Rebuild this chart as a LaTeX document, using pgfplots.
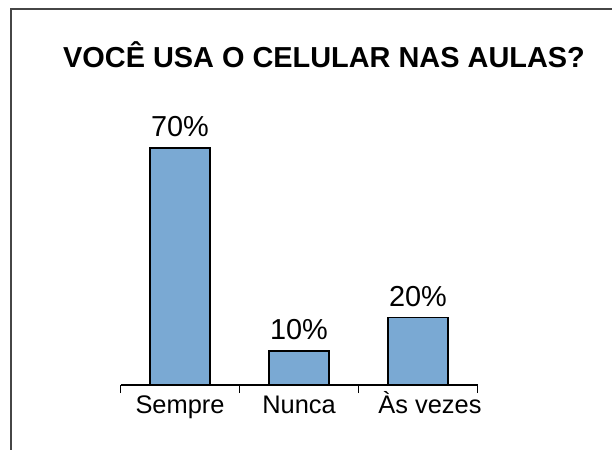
\documentclass[border=0pt]{standalone}
\usepackage{fontspec}
\setmainfont{Liberation Sans}
\usepackage{pgfplots}
\pgfplotsset{compat=1.18}
\definecolor{barblue}{RGB}{122,169,211}
\definecolor{framegray}{RGB}{70,70,70}
\begin{document}
\begin{tikzpicture}
\useasboundingbox (0,0) rectangle (612bp,450bp);
\fill[white] (0,0) rectangle (612bp,450bp);
\draw[framegray, line width=2.2bp] (11bp,0) -- (11bp,441bp) -- (612bp,441bp);
\node[font=\fontsize{29}{32}\selectfont\bfseries, anchor=base] at (324bp,382bp) {VOCÊ USA O CELULAR NAS AULAS?};
\begin{axis}[
  at={(120.5bp,65bp)}, anchor=south west,
  scale only axis, width=357bp, height=237bp,
  xmin=-0.5, xmax=2.5, ymin=0, ymax=70,
  clip=false,
  axis x line*=bottom, axis y line=none,
  axis line style={line width=1.3bp, black},
  xtick={0,1,2},
  xticklabels={Sempre, Nunca, \hspace*{24bp}Às vezes},
  minor xtick={-0.5,0.5,1.5,2.5},
  major tick length=0pt,
  minor tick length=8bp,
  tick align=outside,
  minor tick style={line width=1.3bp, black},
  xticklabel style={font=\fontsize{25.5}{28}\selectfont, text height=18.5bp, text depth=5bp, yshift=-6bp},
  /pgf/number format/assume math mode=true,
  ybar, bar width=60bp,
  nodes near coords={\pgfmathprintnumber{\pgfplotspointmeta}\%},
  nodes near coords style={font=\fontsize{29}{30}\selectfont, anchor=south, yshift=7bp},
]
\addplot[fill=barblue, draw=black, line width=1.3bp] coordinates {(0,70) (1,10) (2,20)};
\end{axis}
\end{tikzpicture}
\end{document}
